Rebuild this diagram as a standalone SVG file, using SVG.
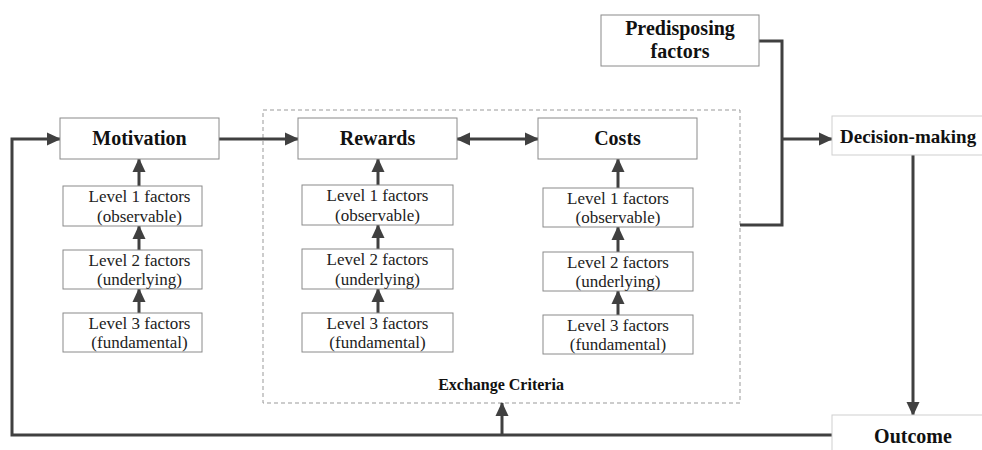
<svg xmlns="http://www.w3.org/2000/svg" width="982" height="450" viewBox="0 0 982 450">
<defs>
<marker id="ah" markerUnits="userSpaceOnUse" markerWidth="14" markerHeight="14" viewBox="0 0 14 14" refX="13" refY="7" orient="auto-start-reverse">
<path d="M0,0.5 L14,7 L0,13.5 Z" fill="#404040"/>
</marker>
<style>
.box{fill:#fff;stroke:#8a8a8a;stroke-width:1}
.lbox{fill:#fff;stroke:#cfcfcf;stroke-width:1}
.title{font-weight:bold;font-size:20px;fill:#111;text-anchor:middle}
.lvl{font-size:17px;fill:#222;text-anchor:middle}
.con{fill:none;stroke:#404040;stroke-width:3}
</style>
</defs>
<rect width="982" height="450" fill="#fff"/>
<g font-family="Liberation Serif, DejaVu Serif, serif">
<g id="exchange-criteria">
<rect x="263" y="110" width="477" height="293" fill="none" stroke="#999" stroke-width="1" stroke-dasharray="4,3"/>
<text x="501" y="390" class="title" style="font-size:16px">Exchange Criteria</text>
</g>
<g id="connectors">
<path class="con" d="M219,139 H298" marker-end="url(#ah)"/>
<path class="con" d="M457,139 H538" marker-start="url(#ah)" marker-end="url(#ah)"/>
<path class="con" d="M139,186 V159" marker-end="url(#ah)"/>
<path class="con" d="M139,250 V226" marker-end="url(#ah)"/>
<path class="con" d="M139,313 V289" marker-end="url(#ah)"/>
<path class="con" d="M378,185 V159" marker-end="url(#ah)"/>
<path class="con" d="M378,249 V225" marker-end="url(#ah)"/>
<path class="con" d="M378,313 V289" marker-end="url(#ah)"/>
<path class="con" d="M618,188 V159" marker-end="url(#ah)"/>
<path class="con" d="M618,252 V227" marker-end="url(#ah)"/>
<path class="con" d="M618,315 V291" marker-end="url(#ah)"/>
<path class="con" d="M759,41 H782 V225 H740"/>
<path class="con" d="M782,139 H832" marker-end="url(#ah)"/>
<path class="con" d="M913,155 V415" marker-end="url(#ah)"/>
<path class="con" d="M832,435 H12 V139 H60" marker-end="url(#ah)"/>
<path class="con" d="M502,435 V403" marker-end="url(#ah)"/>
</g>
<g id="motivation">
<rect class="box" x="60" y="118" width="159" height="41"/>
<text x="139.5" y="145" class="title">Motivation</text>
</g>
<g id="motivation-l1">
<rect class="box" x="63" y="186" width="139" height="40"/>
<text x="139.5" y="202" class="lvl">Level 1 factors</text>
<text x="139.5" y="222" class="lvl">(observable)</text>
</g>
<g id="motivation-l2">
<rect class="box" x="63" y="250" width="139" height="39"/>
<text x="139.5" y="266" class="lvl">Level 2 factors</text>
<text x="139.5" y="285" class="lvl">(underlying)</text>
</g>
<g id="motivation-l3">
<rect class="box" x="63" y="313" width="139" height="39"/>
<text x="139.5" y="329" class="lvl">Level 3 factors</text>
<text x="139.5" y="348" class="lvl">(fundamental)</text>
</g>
<g id="rewards">
<rect class="box" x="298" y="118" width="159" height="41"/>
<text x="377.5" y="145" class="title">Rewards</text>
</g>
<g id="rewards-l1">
<rect class="box" x="302" y="185" width="151" height="40"/>
<text x="377.5" y="201" class="lvl">Level 1 factors</text>
<text x="377.5" y="221" class="lvl">(observable)</text>
</g>
<g id="rewards-l2">
<rect class="box" x="302" y="249" width="151" height="40"/>
<text x="377.5" y="265" class="lvl">Level 2 factors</text>
<text x="377.5" y="285" class="lvl">(underlying)</text>
</g>
<g id="rewards-l3">
<rect class="box" x="302" y="313" width="151" height="39"/>
<text x="377.5" y="329" class="lvl">Level 3 factors</text>
<text x="377.5" y="348" class="lvl">(fundamental)</text>
</g>
<g id="costs">
<rect class="box" x="538" y="118" width="159" height="41"/>
<text x="617.5" y="145" class="title">Costs</text>
</g>
<g id="costs-l1">
<rect class="box" x="543" y="188" width="150" height="39"/>
<text x="618" y="204" class="lvl">Level 1 factors</text>
<text x="618" y="223" class="lvl">(observable)</text>
</g>
<g id="costs-l2">
<rect class="box" x="543" y="252" width="150" height="39"/>
<text x="618" y="268" class="lvl">Level 2 factors</text>
<text x="618" y="287" class="lvl">(underlying)</text>
</g>
<g id="costs-l3">
<rect class="box" x="543" y="315" width="150" height="39"/>
<text x="618" y="331" class="lvl">Level 3 factors</text>
<text x="618" y="350" class="lvl">(fundamental)</text>
</g>
<g id="predisposing">
<rect class="box" x="601" y="15" width="158" height="51"/>
<text x="680" y="35" class="title">Predisposing</text>
<text x="680" y="58" class="title">factors</text>
</g>
<g id="decision-making">
<rect class="lbox" x="832" y="116" width="170" height="39"/>
<text x="840" y="143" class="title" style="text-anchor:start;font-size:19px">Decision-making</text>
</g>
<g id="outcome">
<rect class="lbox" x="832" y="415" width="170" height="45"/>
<text x="913" y="443" class="title">Outcome</text>
</g>
</g>
</svg>
